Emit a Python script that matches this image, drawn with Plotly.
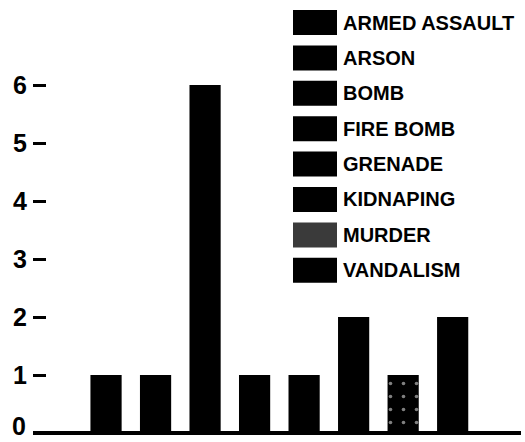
import plotly.graph_objects as go

categories = ["ARMED ASSAULT", "ARSON", "BOMB", "FIRE BOMB", "GRENADE", "KIDNAPING", "MURDER", "VANDALISM"]
counts = [1, 1, 6, 1, 1, 2, 1, 2]
y_ticks = [1, 2, 3, 4, 5, 6]
zero_label = "0"

W, H = 525, 442
ML, MR, MT, MB = 33, 4, 0, 0
PW = W - ML - MR
PH = H - MT - MB

def px_x(px):
    return (px - ML) / PW

def px_y(py):
    return 1 - (py - MT) / PH

FONT = "Liberation Sans, Arial, Helvetica, sans-serif"

fig = go.Figure()
for i, (cat, val) in enumerate(zip(categories, counts)):
    marker = dict(color="black", line=dict(width=0))
    if cat == "MURDER":
        marker["pattern"] = dict(shape=".", fgcolor="white", bgcolor="black", size=13, solidity=0.06)
    fig.add_trace(go.Bar(x=[i], y=[val], name=cat, width=0.63, marker=marker, showlegend=False))

shapes = []
annotations = []
for i, cat in enumerate(categories):
    top = 10 + i * 35.4
    fill = "#3a3a3a" if cat == "MURDER" else "black"
    shapes.append(dict(type="rect", xref="paper", yref="paper",
                       x0=px_x(293), x1=px_x(337), y0=px_y(top), y1=px_y(top + 25),
                       fillcolor=fill, line=dict(width=0)))
    annotations.append(dict(text="<b>%s</b>" % cat, xref="paper", yref="paper", x=px_x(341), y=px_y(top + 12.5),
                            xanchor="left", yanchor="middle", showarrow=False,
                            font=dict(family=FONT, size=20, color="black")))

# zero tick label just at the baseline, kept fully inside the frame
annotations.append(dict(text="<b>%s</b>" % zero_label, xref="paper", yref="paper", x=px_x(28), y=px_y(442),
                        xanchor="right", yanchor="bottom", showarrow=False,
                        font=dict(family=FONT, size=25, color="black")))

fig.update_layout(
    width=W, height=H,
    margin=dict(l=ML, r=MR, t=MT, b=MB, pad=0),
    paper_bgcolor="white", plot_bgcolor="white",
    barmode="overlay",
    showlegend=False,
    shapes=shapes,
    annotations=annotations,
    font=dict(family=FONT, color="black"),
    xaxis=dict(range=[-1.475, 8.38], showticklabels=False, ticks="", showgrid=False,
               zeroline=False, showline=False, automargin=False),
    yaxis=dict(range=[-0.155, 7.466], tickvals=y_ticks, ticktext=["<b>%d</b>" % v for v in y_ticks],
               ticks="inside", ticklen=13, tickwidth=2.5,
               tickcolor="black", showgrid=False, zeroline=True, zerolinecolor="black",
               zerolinewidth=4, showline=False, automargin=False, ticklabelstandoff=5,
               tickfont=dict(family=FONT, size=25, color="black")),
)

fig.write_html("out.html", config={"displayModeBar": False},
               post_script="document.body.style.margin='0px';document.body.style.padding='0px';")
